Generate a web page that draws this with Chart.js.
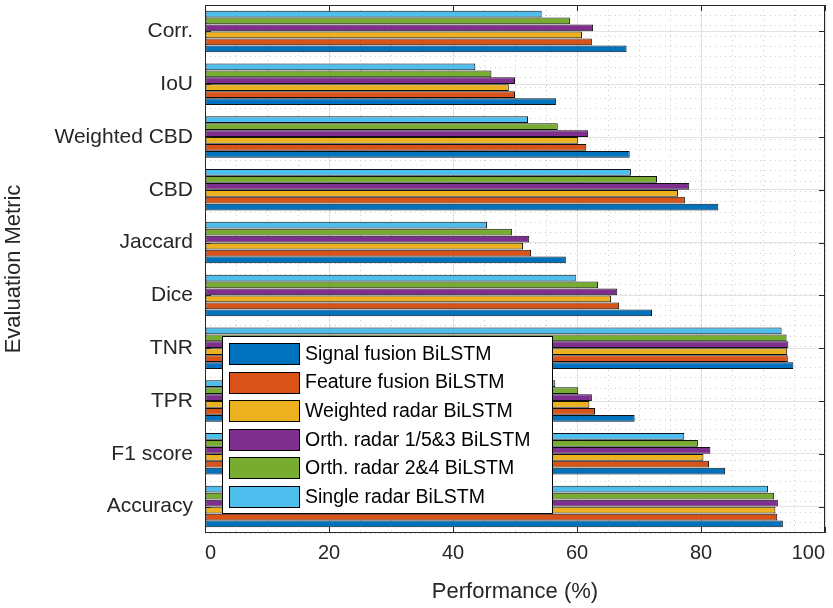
<!DOCTYPE html>
<html>
<head>
<meta charset="utf-8">
<script src="https://cdn.jsdelivr.net/npm/chart.js@4.4.1/dist/chart.umd.min.js"></script>
<style>
  html, body { margin: 0; padding: 0; background: #fff; }
  #wrap { width: 833px; height: 608px; }
</style>
</head>
<body>
<div id="wrap"><canvas id="chart"></canvas></div>
<script>
// categories, top to bottom
const metrics = ['Corr.', 'IoU', 'Weighted CBD', 'CBD', 'Jaccard', 'Dice', 'TNR', 'TPR', 'F1 score', 'Accuracy'];
const xTicks = [0, 20, 40, 60, 80, 100];

// series values (%), same order as metrics
const signalFusion  = [68.0, 56.6, 68.5, 82.8, 58.2, 72.1, 94.9, 69.3, 83.9, 93.2];
const featureFusion = [62.4, 50.0, 61.5, 77.4, 52.6, 66.8, 94.0, 62.9, 81.3, 92.3];
const weightedRadar = [60.8, 49.0, 60.2, 76.3, 51.3, 65.5, 93.9, 62.0, 80.4, 92.0];
const orthRadar153  = [62.6, 50.0, 61.8, 78.1, 52.3, 66.5, 94.1, 62.4, 81.5, 92.4];
const orthRadar24   = [58.9, 46.2, 56.9, 72.9, 49.5, 63.4, 93.8, 60.2, 79.5, 91.8];
const singleRadar   = [54.3, 43.6, 52.1, 68.7, 45.5, 59.8, 93.0, 56.5, 77.3, 90.8];

const seriesNames = ['Signal fusion BiLSTM', 'Feature fusion BiLSTM', 'Weighted radar BiLSTM',
  'Orth. radar 1/5&3 BiLSTM', 'Orth. radar 2&4 BiLSTM', 'Single radar BiLSTM'];
const seriesValues = [signalFusion, featureFusion, weightedRadar, orthRadar153, orthRadar24, singleRadar];
const seriesColors = ['#0072BD', '#D95319', '#EDB120', '#7E2F8E', '#77AC30', '#4DBEEE'];

const FONT = "'Liberation Sans', Arial, Helvetica, sans-serif";
const TXT = '#262626';

// Chart.js puts dataset 0 at the top of each group, so feed them reversed
const datasets = seriesNames.map((name, i) => ({
  label: name,
  data: seriesValues[i],
  backgroundColor: seriesColors[i],
  borderColor: '#111',
  borderWidth: 1,
  borderSkipped: false,
  xAxisID: 'x',
  yAxisID: 'y',
  categoryPercentage: 0.79,
  barPercentage: 0.97
})).reverse();

// axes box, inward ticks and the boxed legend (MATLAB look)
const boxAndLegend = {
  id: 'boxAndLegend',
  afterDatasetsDraw(chart) {
    const { ctx, chartArea: a, scales } = chart;
    ctx.save();
    ctx.strokeStyle = TXT;
    ctx.lineWidth = 1;
    ctx.beginPath();
    xTicks.forEach(v => {
      const px = Math.round(scales.x.getPixelForValue(v)) + 0.5;
      ctx.moveTo(px, a.bottom); ctx.lineTo(px, a.bottom - 6);
      ctx.moveTo(px, a.top); ctx.lineTo(px, a.top + 6);
    });
    metrics.forEach((m, i) => {
      const py = Math.round(scales.y.getPixelForValue(i)) + 0.5;
      ctx.moveTo(a.left, py); ctx.lineTo(a.left + 6, py);
      ctx.moveTo(a.right, py); ctx.lineTo(a.right - 6, py);
    });
    ctx.stroke();
    ctx.strokeRect(a.left + 0.5, a.top + 0.5, a.width - 1, a.height - 1);

    // legend
    const lx = 222, ly = 336, lw = 330, lh = 177;
    ctx.fillStyle = '#fff';
    ctx.fillRect(lx, ly, lw, lh);
    ctx.strokeStyle = '#000';
    ctx.strokeRect(lx + 0.5, ly + 0.5, lw, lh);
    ctx.font = '19.5px ' + FONT;
    ctx.textBaseline = 'middle';
    seriesNames.forEach((name, i) => {
      const cy = 353.5 + i * 28.6;
      ctx.fillStyle = seriesColors[i];
      ctx.fillRect(229.5, Math.round(cy - 10.5) + 0.5, 70, 21);
      ctx.strokeStyle = '#000';
      ctx.strokeRect(229.5, Math.round(cy - 10.5) + 0.5, 70, 21);
      ctx.fillStyle = '#000';
      ctx.fillText(name, 305, cy + 1);
    });
    ctx.restore();
  }
};

new Chart(document.getElementById('chart'), {
  type: 'bar',
  data: { labels: metrics, datasets: datasets },
  options: {
    indexAxis: 'y',
    responsive: true,
    maintainAspectRatio: false,
    animation: false,
    layout: { padding: { top: 5, right: 8, left: 0, bottom: 0 } },
    plugins: {
      legend: { display: false },
      tooltip: { enabled: false }
    },
    scales: {
      x: {
        type: 'linear',
        min: 0,
        max: 100,
        grid: { color: '#e3e3e3', drawTicks: false },
        border: { display: false },
        ticks: {
          stepSize: 20,
          align: 'inner',
          padding: 8,
          color: TXT,
          font: { family: FONT, size: 20 }
        },
        title: {
          display: true,
          text: 'Performance (%)',
          color: TXT,
          font: { family: FONT, size: 22 },
          padding: { top: 0, bottom: 3 }
        },
        afterFit: s => { s.height = 75; s.paddingLeft = 0; s.paddingRight = 0; }
      },
      y: {
        type: 'category',
        grid: { color: '#e3e3e3', drawTicks: false, offset: false },
        border: { display: false },
        ticks: {
          padding: 12,
          color: TXT,
          font: { family: FONT, size: 21 }
        },
        title: {
          display: true,
          text: 'Evaluation Metric',
          color: TXT,
          font: { family: FONT, size: 22 },
          padding: { top: 1, bottom: 0 }
        },
        afterFit: s => { s.width = 205; s.paddingTop = 0; s.paddingBottom = 0; }
      },
      xMinor: {
        type: 'linear',
        axis: 'x',
        position: 'bottom',
        min: 0,
        max: 100,
        ticks: { display: false, stepSize: 5 },
        grid: { color: '#cdcdcd', drawTicks: false },
        border: { display: false, dash: [1, 4] },
        afterFit: s => { s.height = 0; s.paddingLeft = 0; s.paddingRight = 0; }
      },
      yMinor: {
        type: 'linear',
        axis: 'y',
        position: 'left',
        min: -0.5,
        max: 9.5,
        ticks: { display: false, stepSize: 0.2 },
        grid: { color: '#cdcdcd', drawTicks: false },
        border: { display: false, dash: [1, 4] },
        afterFit: s => { s.width = 0; s.paddingTop = 0; s.paddingBottom = 0; }
      }
    }
  },
  plugins: [boxAndLegend]
});
</script>
</body>
</html>
